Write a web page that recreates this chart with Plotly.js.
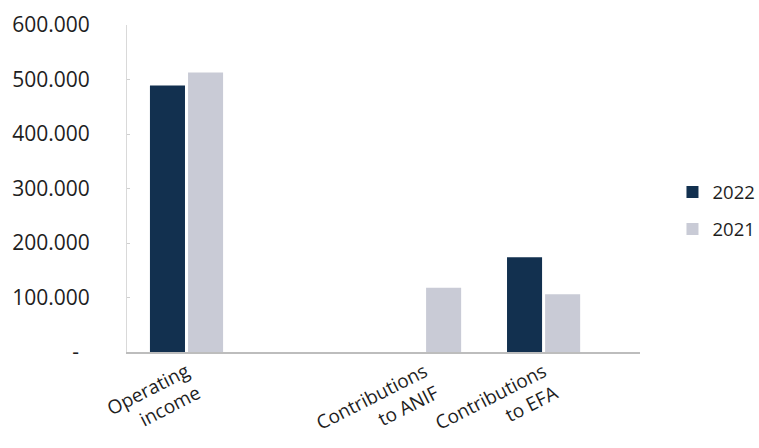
<!DOCTYPE html>
<html>
<head>
<meta charset="utf-8">
<script src="https://cdn.plot.ly/plotly-3.0.1.min.js"></script>
<style>html,body{margin:0;padding:0;background:#fff;}#chart{width:759px;height:448px;}</style>
</head>
<body>
<div id="chart"></div>
<script>
var categories = ["Operating<br>income", " ", "Contributions<br>to ANIF", "Contributions<br>to EFA"];
var values2022 = [489000, null, null, 174000];
var values2021 = [513000, null, 118000, 106000];
var yTickVals = [0, 100000, 200000, 300000, 400000, 500000, 600000];
var yTickText = ["-\u00A0\u00A0", "100.000", "200.000", "300.000", "400.000", "500.000", "600.000"];

var traces = [
  {type: "bar", name: "2022", x: categories, y: values2022, marker: {color: "#12304f"}, legendgroup: "a"},
  {type: "bar", name: "2021", x: categories, y: values2021, marker: {color: "#c9cbd6"}, legendgroup: "b"}
];

var layout = {
  width: 759, height: 448,
  margin: {l: 127, r: 119, t: 25, b: 96, autoexpand: false},
  paper_bgcolor: "#ffffff", plot_bgcolor: "#ffffff",
  font: {family: "Open Sans, sans-serif", color: "#1e1e1e"},
  barmode: "group", bargap: 0.36, bargroupgap: 0.08,
  showlegend: true,
  legend: {xref: "container", yref: "container", x: 0.886, xanchor: "left", y: 0.529, yanchor: "middle",
           font: {size: 18.5, color: "#1e1e1e"}, tracegroupgap: 10, traceorder: "grouped", itemwidth: 30},
  xaxis: {
    type: "category", range: [-0.5, 3.81],
    showline: true, linecolor: "#bdbdbd", linewidth: 1.5,
    ticks: "", tickangle: -27, tickfont: {size: 19, color: "#1e1e1e"},
    showgrid: false, zeroline: false, fixedrange: true
  },
  yaxis: {
    range: [0, 600000], tickvals: yTickVals, ticktext: yTickText,
    showline: true, linecolor: "#d9d9d9", linewidth: 1,
    ticks: "inside", ticklen: 3, tickcolor: "#d0d0d0",
    ticklabelstandoff: 32,
    tickfont: {size: 21, color: "#1e1e1e"},
    showgrid: false, zeroline: false
  }
};

Plotly.newPlot("chart", traces, layout, {displayModeBar: false, staticPlot: true});
</script>
</body>
</html>
